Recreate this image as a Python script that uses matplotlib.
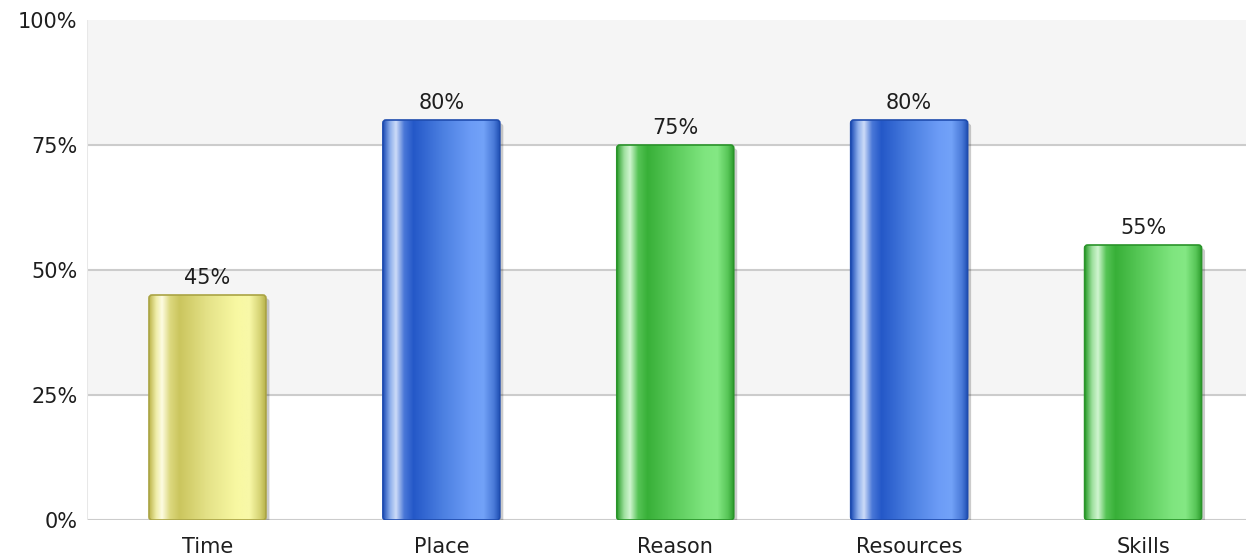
import numpy as np
import matplotlib
matplotlib.use('Agg')
from matplotlib import pyplot as plt
from matplotlib.colors import LinearSegmentedColormap
from matplotlib.patches import FancyBboxPatch
from matplotlib import transforms

categories = ['Time', 'Place', 'Reason', 'Resources', 'Skills']
values = [45, 80, 75, 80, 55]
bar_styles = ['yellow', 'blue', 'green', 'blue', 'green']
y_ticks = [0, 25, 50, 75, 100]
y_tick_labels = ['0%', '25%', '50%', '75%', '100%']

# colour stops across the bar width (left -> right)
stops = {
    'yellow': ['#bdb64c', '#efeda8', '#fdfce2', '#dcd87e', '#cbc65e', '#e4e288', '#f8f8a2', '#f8f8a8', '#d6d474', '#b8b24c'],
    'blue':   ['#1f4fb8', '#8fb0ec', '#cddcf8', '#4a78d8', '#2458c8', '#4a7ee0', '#6c9cf6', '#72a2f8', '#4a7ad8', '#1f4fb4'],
    'green':  ['#2fa02f', '#9ee09e', '#d0f5d0', '#56c456', '#38b038', '#5ccc5c', '#7fe57f', '#84e884', '#58c658', '#2c9c2c'],
}
edge_colors = {'yellow': '#aaa444', 'blue': '#1f4cae', 'green': '#2a942a'}
stop_pos = [0.0, 0.06, 0.11, 0.18, 0.26, 0.5, 0.75, 0.86, 0.95, 1.0]

fig = plt.figure(figsize=(12.46, 5.59), dpi=100)
ax = fig.add_axes([87 / 1246, 1 - 520 / 559, 1 - 87 / 1246, 500 / 559])
xmin, xmax = -0.515, 4.44
ax.set_xlim(xmin, xmax)
ax.set_ylim(0, 100)

# alternating background bands
for i in range(4):
    lo, hi = y_ticks[i], y_ticks[i + 1]
    ax.axhspan(lo, hi, color='#f5f5f5' if i % 2 == 1 else 'white', zorder=0, lw=0)
for t in y_ticks[:-1]:
    ax.axhline(t, color='#cccccc', lw=1.5, zorder=1)
ax.axvline(xmin, color='#e8e8e8', lw=1.5, zorder=1)

width = 0.5
r = 0.013                       # corner radius in x units (~3 px)
aspect = (100 / 500) / (4.955 / 1159)   # y units per x unit at equal pixels
grad = np.linspace(0, 1, 256).reshape(1, -1)
shadow_tr = transforms.offset_copy(ax.transData, fig=fig, x=2.5, y=-2.5, units='points')
for i, (cat, v, st) in enumerate(zip(categories, values, bar_styles)):
    x0 = i - width / 2
    cmap = LinearSegmentedColormap.from_list(st, list(zip(stop_pos, stops[st])))
    box = dict(boxstyle=f'round,pad=0,rounding_size={r}', mutation_aspect=aspect)
    ax.add_patch(FancyBboxPatch((x0, 0), width, v, transform=shadow_tr,
                                facecolor='#000000', alpha=0.2, lw=0, zorder=2, **box))
    im = ax.imshow(grad, cmap=cmap, aspect='auto', extent=(x0, x0 + width, 0, v),
                   zorder=3, interpolation='bilinear')
    outline = FancyBboxPatch((x0, 0), width, v, facecolor='none',
                             edgecolor=edge_colors[st], lw=1.2, zorder=4, **box)
    ax.add_patch(outline)
    im.set_clip_path(outline)
    ax.annotate(f'{v}%', (i, v), xytext=(0, 5), textcoords='offset points',
                ha='center', va='bottom', fontsize=15, color='#1e1e1e')

ax.set_xlim(xmin, xmax)
ax.set_ylim(0, 100)
ax.set_xticks(range(len(categories)))
ax.set_xticklabels(categories, fontsize=15, color='#1e1e1e')
ax.set_yticks(y_ticks)
ax.set_yticklabels(y_tick_labels, fontsize=15, color='#1e1e1e')
ax.tick_params(axis='both', length=0)
ax.tick_params(axis='x', pad=12)
ax.tick_params(axis='y', pad=7)
for s in ax.spines.values():
    s.set_visible(False)

fig.savefig('out.png', dpi=100)
